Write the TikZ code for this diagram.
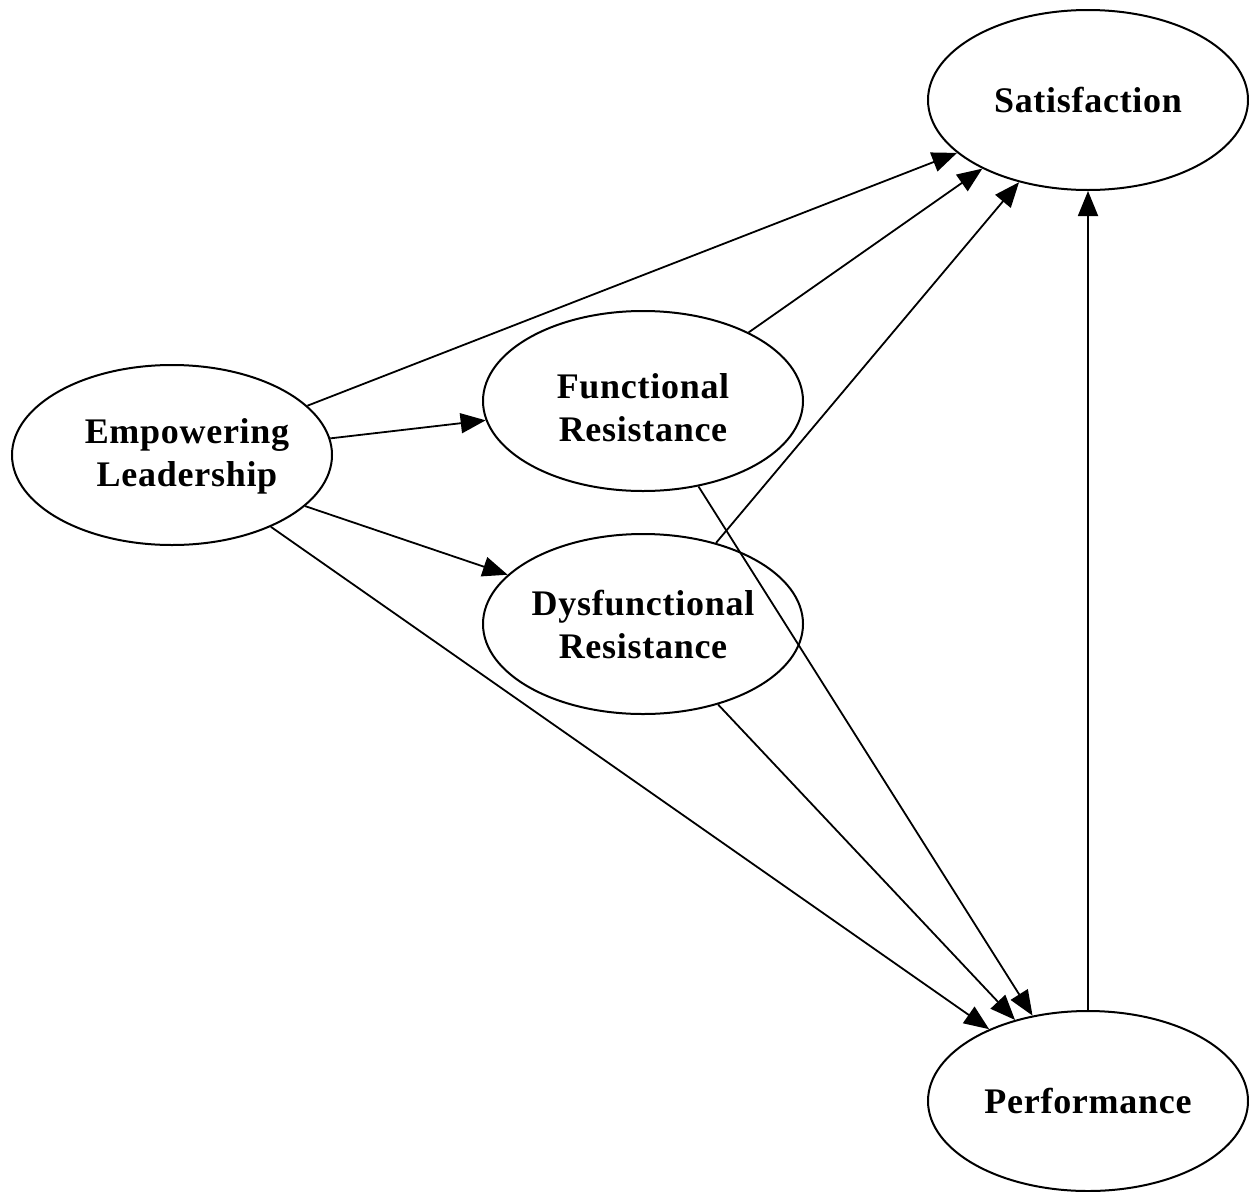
\documentclass[tikz,border=0pt]{standalone}
\usepackage{fontspec}
\setmainfont[LetterSpace=2]{Liberation Serif}
\usetikzlibrary{shapes.geometric,arrows.meta}
\begin{document}
\begin{tikzpicture}[x=1pt,y=-1pt,
  var/.style={ellipse,draw,line width=2pt,minimum width=320pt,minimum height=180pt,inner sep=0pt,align=center,
    font=\fontsize{36}{43}\selectfont\bfseries},
  lbl/.style={align=center,inner sep=0pt,font=\fontsize{36}{43}\selectfont\bfseries},
  arr/.style={line width=1.8pt,-{Triangle[length=25pt,width=20pt]}}]
\useasboundingbox (0,0) rectangle (1249,1191);
\node[var] (Sat) at (1088,100) {Satisfaction};
\node[var] (EL) at (172,455) {};
\node[lbl] (ELt) at (187,456) {Empowering\\Leadership};
\node[var] (FR) at (643,401) {};
\node[lbl] (FRt) at (643,408) {Functional\\Resistance};
\node[var] (DR) at (643,624) {Dysfunctional\\Resistance};
\node[var] (Perf) at (1088,1101) {Performance};
\draw[arr] (EL.20.6) -- (Sat.202);
\draw[arr] (FR.33.7) -- (Sat.213.7);
\draw[arr] (DR.48.5) -- (Sat.230.3);
\draw[arr] (Perf.north) -- (Sat.south);
\draw[arr] (EL.6.9) -- (FR.187);
\draw[arr] (EL.-21) -- (DR.160.5);
\draw[arr] (EL.-36) -- (Perf.144);
\draw[arr] (FR.-57) -- (Perf.123);
\draw[arr] (DR.-47.5) -- (Perf.132.7);
\end{tikzpicture}
\end{document}
